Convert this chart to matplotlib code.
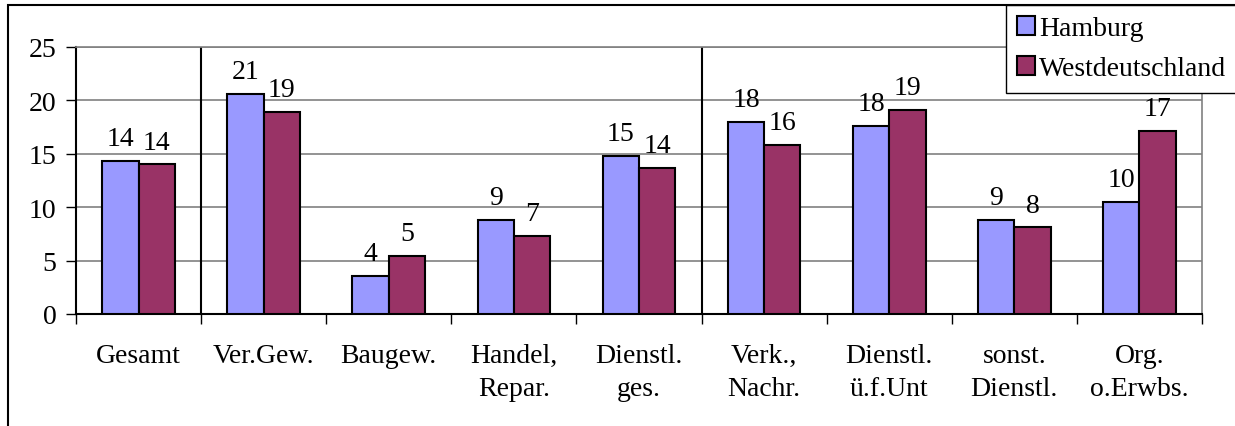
import numpy as np
import matplotlib.pyplot as plt
from matplotlib.patches import Rectangle

kategorien = ['Gesamt', 'Ver.Gew.', 'Baugew.', 'Handel,\nRepar.', 'Dienstl.\nges.',
              'Verk.,\nNachr.', 'Dienstl.\nü.f.Unt', 'sonst.\nDienstl.', 'Org.\no.Erwbs.']
hamburg = [14.3, 20.6, 3.6, 8.8, 14.8, 18.0, 17.6, 8.8, 10.5]
west = [14.0, 18.9, 5.4, 7.3, 13.7, 15.8, 19.1, 8.1, 17.1]
serien = ['Hamburg', 'Westdeutschland']
y_ticks = [0, 5, 10, 15, 20, 25]

plt.rcParams['font.family'] = ['Liberation Serif', 'DejaVu Serif']
fs = 20

fig = plt.figure(figsize=(12.35, 4.27), dpi=100)
ax = fig.add_axes([76 / 1235, 1 - 315 / 427, (1202 - 76) / 1235, (315 - 48) / 427])

x = np.arange(len(kategorien))
w = 0.29
b1 = ax.bar(x - w / 2, hamburg, w, color='#9999FF', edgecolor='black', linewidth=1.5,
            label=serien[0], zorder=3)
b2 = ax.bar(x + w / 2, west, w, color='#993366', edgecolor='black', linewidth=1.5,
            label=serien[1], zorder=3)

for bars, werte in [(b1, hamburg), (b2, west)]:
    for r, v in zip(bars, werte):
        ax.annotate(str(int(round(v))), (r.get_x() + r.get_width() / 2, v),
                    xytext=(0, 11.5), textcoords='offset points',
                    ha='center', va='baseline', fontsize=fs)

# Trennlinien zwischen den Gruppen
for g in [0.5, 4.5]:
    ax.axvline(g, color='black', linewidth=1.5, zorder=2)

ax.set_xlim(-0.5, len(kategorien) - 0.5)
ax.set_ylim(0, 25)
ax.set_yticks(y_ticks)
ax.tick_params(axis='y', labelsize=fs, length=7, width=1, pad=7, direction='out')
ax.yaxis.grid(True, color='#808080', linewidth=1.2, zorder=0)

ax.set_xticks(np.arange(len(kategorien) + 1) - 0.5)
ax.set_xticklabels([])
ax.set_xticks(x, minor=True)
ax.set_xticklabels(kategorien, minor=True, fontsize=fs, linespacing=1.4)
ax.tick_params(axis='x', which='major', length=7, width=1, direction='out')
ax.tick_params(axis='x', which='minor', length=0, pad=21)

ax.spines['left'].set_linewidth(1.5)
ax.spines['bottom'].set_linewidth(1.5)
ax.spines['top'].set_color('#808080')
ax.spines['right'].set_color('#808080')
ax.spines['top'].set_linewidth(1.2)
ax.spines['right'].set_linewidth(1.2)

leg = ax.legend(loc='upper left', bbox_to_anchor=(1006 / 1235, 0, 300 / 1235, 1 - 6 / 427),
                bbox_transform=fig.transFigure, mode='expand', borderaxespad=0,
                fontsize=fs, handlelength=0.65, handleheight=0.65, handletextpad=0.15,
                labelspacing=0.55, borderpad=0.4, fancybox=False, framealpha=1,
                edgecolor='black')
leg.get_frame().set_linewidth(1)

# Rahmen um das Diagramm
fig.add_artist(Rectangle((8 / 1235, -0.1), 1.0, 1.1 - 6 / 427, transform=fig.transFigure,
                         fill=False, edgecolor='black', linewidth=1.5))

plt.savefig('out.png', dpi=100)
